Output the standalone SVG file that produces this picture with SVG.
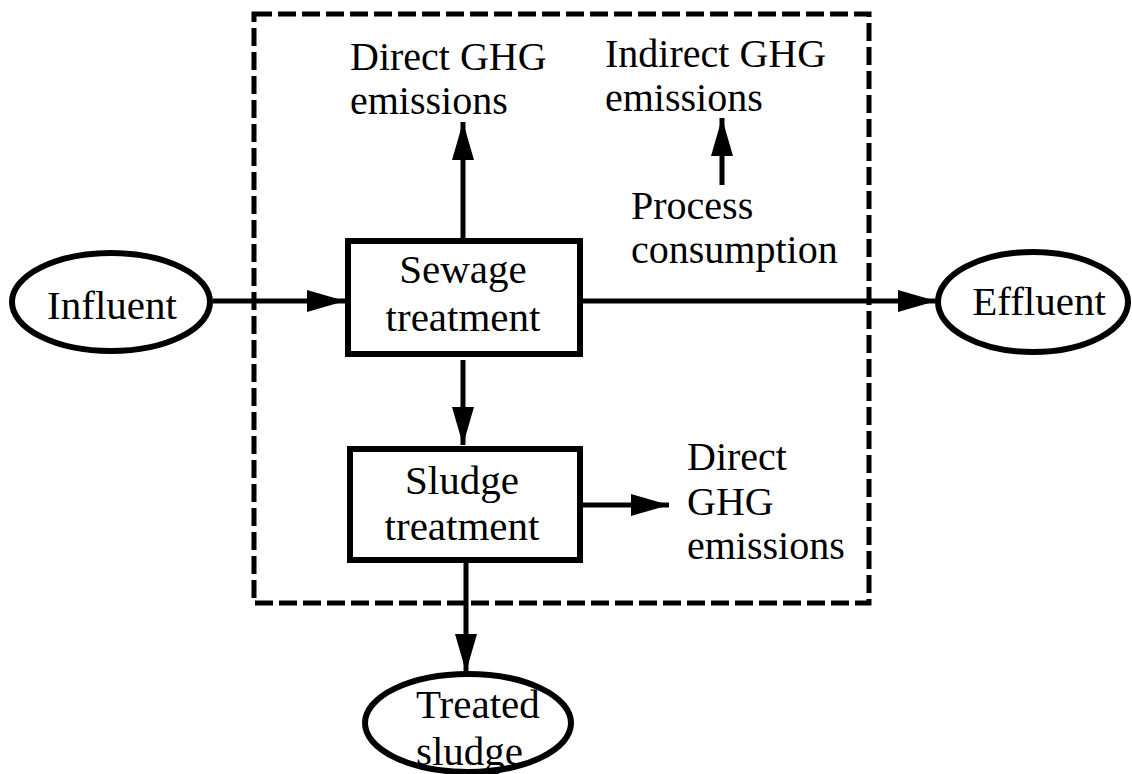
<svg xmlns="http://www.w3.org/2000/svg" width="1132" height="774" viewBox="0 0 1132 774">
  <style>
    .shape { fill: #fff; stroke: #000; stroke-width: 6; }
    .boundary { fill: none; stroke: #000; stroke-width: 5; stroke-dasharray: 18 6; }
    .conn { fill: none; stroke: #000; stroke-width: 5; }
    text { font-family: "Liberation Serif", "Times New Roman", serif; font-size: 41px; fill: #000; }
    .lbl { font-size: 40px; }
    .c { text-anchor: middle; }
  </style>
  <defs>
    <marker id="arrow" markerUnits="userSpaceOnUse" markerWidth="40" markerHeight="24" refX="38" refY="11" orient="auto">
      <path d="M0,0 L38,11 L0,22 z" fill="#000"/>
    </marker>
  </defs>

  <!-- plant boundary -->
  <rect class="boundary" x="254" y="14" width="615" height="589"/>

  <g id="connectors">
    <line class="conn" x1="213" y1="301" x2="345" y2="301" marker-end="url(#arrow)"/>
    <line class="conn" x1="583" y1="301" x2="936" y2="301" marker-end="url(#arrow)"/>
    <line class="conn" x1="463" y1="238" x2="463" y2="122" marker-end="url(#arrow)"/>
    <line class="conn" x1="722" y1="185" x2="722" y2="118" marker-end="url(#arrow)"/>
    <line class="conn" x1="463" y1="360" x2="463" y2="445" marker-end="url(#arrow)"/>
    <line class="conn" x1="583" y1="505" x2="669" y2="505" marker-end="url(#arrow)"/>
    <line class="conn" x1="466" y1="563" x2="466" y2="672" marker-end="url(#arrow)"/>
  </g>

  <g id="influent">
    <ellipse class="shape" cx="111" cy="302" rx="99" ry="49"/>
    <text class="c" x="112" y="319">Influent</text>
  </g>

  <g id="effluent">
    <ellipse class="shape" cx="1033" cy="302" rx="95" ry="50"/>
    <text class="c" x="1039" y="315">Effluent</text>
  </g>

  <g id="sewage-treatment">
    <rect class="shape" x="348" y="241" width="232" height="113"/>
    <text class="c" x="463" y="283">Sewage</text>
    <text class="c" x="463" y="331">treatment</text>
  </g>

  <g id="sludge-treatment">
    <rect class="shape" x="350" y="449" width="230" height="111"/>
    <text class="c" x="462" y="494">Sludge</text>
    <text class="c" x="462" y="540">treatment</text>
  </g>

  <g id="treated-sludge">
    <ellipse class="shape" cx="468" cy="723" rx="103" ry="49"/>
    <text x="416" y="718">Treated</text>
    <text x="416" y="765">sludge</text>
  </g>

  <g id="direct-ghg-sewage">
    <text class="lbl" x="350" y="70">Direct GHG</text>
    <text class="lbl" x="350" y="114">emissions</text>
  </g>

  <g id="indirect-ghg">
    <text class="lbl" x="605" y="67">Indirect GHG</text>
    <text class="lbl" x="605" y="111">emissions</text>
  </g>

  <g id="process-consumption">
    <text class="lbl" x="631" y="219">Process</text>
    <text class="lbl" x="631" y="263">consumption</text>
  </g>

  <g id="direct-ghg-sludge">
    <text class="lbl" x="687" y="470">Direct</text>
    <text class="lbl" x="687" y="515">GHG</text>
    <text class="lbl" x="687" y="559">emissions</text>
  </g>
</svg>
